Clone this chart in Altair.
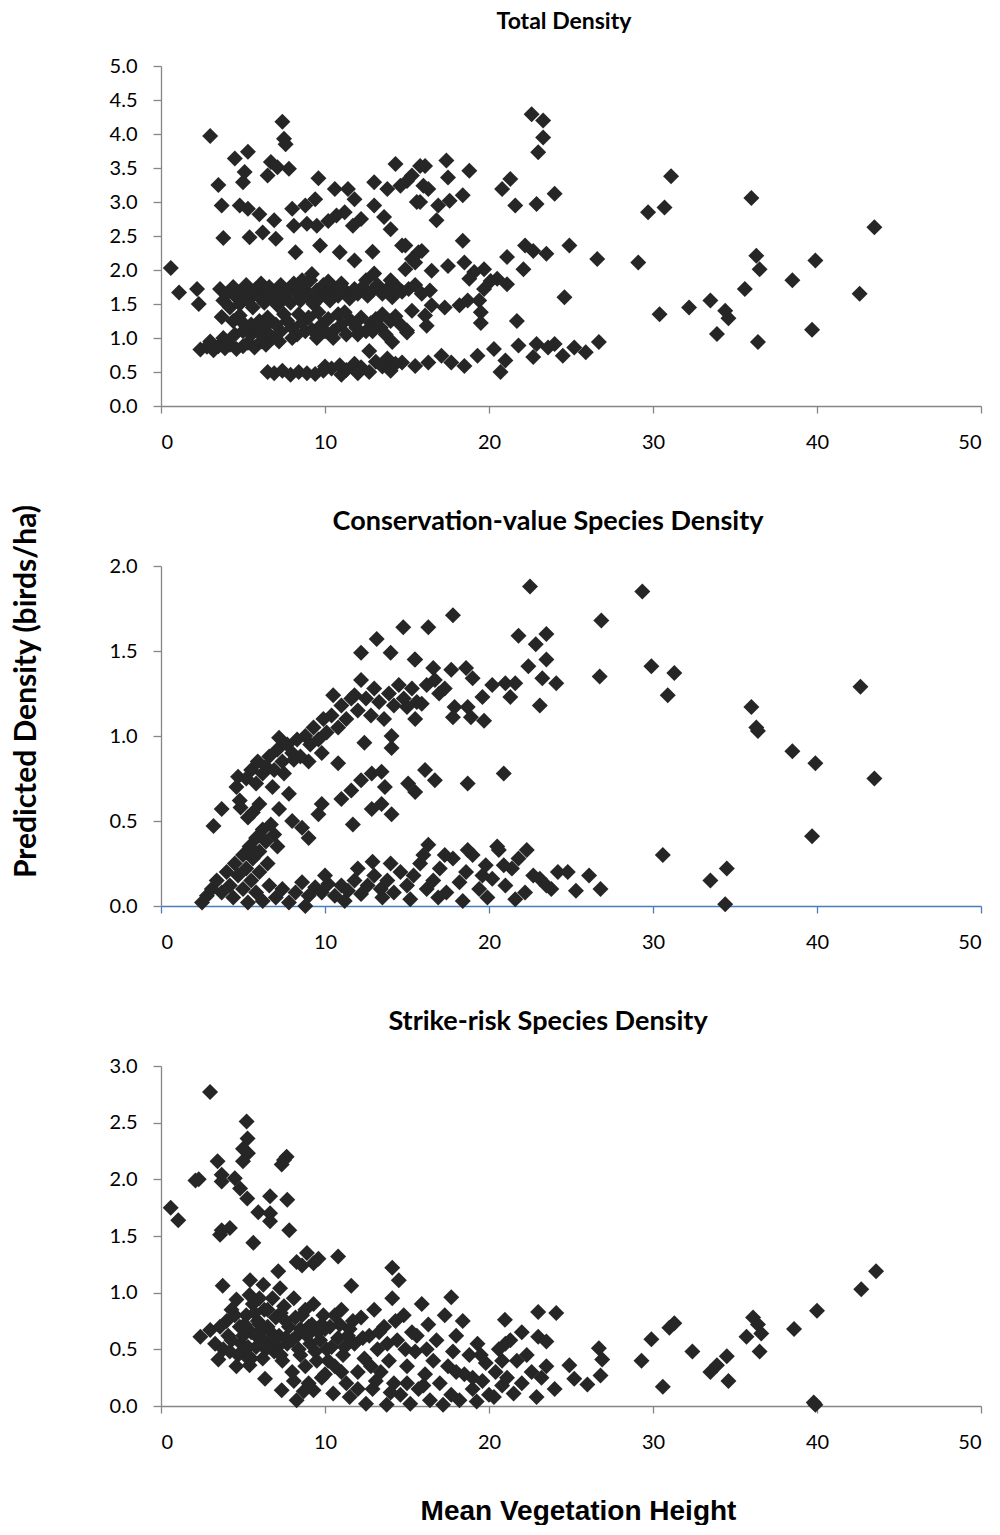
import altair as alt
import pandas as pd

# ---------------- data ----------------
total_pts = [
    (0.6, 2.03), (1.1, 1.67), (2.2, 1.72), (2.3, 1.50),
    (3.0, 3.97), (4.5, 3.64), (5.3, 3.74), (3.5, 3.25), (5.1, 3.44), (5.0, 3.29), (3.7, 2.95), (4.8, 2.95),
    (5.3, 2.90), (3.8, 2.47), (7.4, 4.18), (7.5, 3.93), (7.6, 3.85), (6.7, 3.59), (7.1, 3.51), (7.8, 3.49),
    (6.5, 3.39), (6.0, 2.82), (6.9, 2.73), (5.4, 2.48), (6.2, 2.55), (7.0, 2.46), (8.0, 2.90), (8.8, 2.95),
    (9.4, 3.04), (9.6, 3.35), (8.1, 2.65), (8.9, 2.68), (9.5, 2.65), (10.2, 2.72), (10.7, 2.80), (11.2, 2.85),
    (8.2, 2.26), (9.7, 2.36), (10.6, 3.19), (11.4, 3.19), (11.8, 3.04), (11.7, 2.65), (12.2, 2.75),
    (10.9, 2.26), (11.8, 2.14), (12.9, 2.27), (13.0, 3.29), (13.8, 3.19), (14.3, 3.56), (14.6, 3.24),
    (15.0, 3.31), (15.8, 3.53), (16.0, 3.24), (15.6, 3.00), (13.0, 2.95), (13.6, 2.78), (14.0, 2.60),
    (14.7, 2.36), (15.5, 2.11), (15.7, 2.26), (22.6, 4.29), (23.3, 4.20), (23.3, 3.95), (23.0, 3.73),
    (21.3, 3.34), (20.8, 3.19), (21.6, 2.95), (22.9, 2.97), (24.0, 3.12), (31.1, 3.38), (29.7, 2.85),
    (30.7, 2.92), (17.4, 3.61), (18.8, 3.46), (18.4, 3.10), (17.5, 3.36), (16.1, 3.53), (15.3, 3.39),
    (16.3, 3.19), (15.8, 3.00), (16.9, 2.95), (17.6, 3.02), (16.8, 2.73), (18.4, 2.43),
    (22.2, 2.36), (22.7, 2.28), (23.5, 2.24), (24.9, 2.36), (26.6, 2.16), (29.1, 2.11),
    (14.9, 2.36), (15.9, 2.28), (15.3, 2.16), (14.9, 2.01), (16.5, 1.99), (17.5, 2.06), (18.5, 2.11),
    (19.1, 1.97), (19.7, 2.01), (20.1, 1.84), (21.1, 2.19), (22.1, 2.01), (20.5, 1.87), (21.1, 1.79),
    (19.7, 1.72), (18.8, 1.87), (16.4, 1.70), (24.6, 1.60), (30.4, 1.35), (32.2, 1.45),
    (15.3, 1.40), (16.1, 1.33), (16.5, 1.48), (17.3, 1.45), (18.2, 1.48), (18.7, 1.55), (19.4, 1.55),
    (19.5, 1.38), (19.5, 1.22), (16.2, 1.18), (15.0, 1.11), (21.7, 1.25),
    (14.7, 0.64), (15.5, 0.59), (16.3, 0.64), (17.1, 0.74), (17.7, 0.64), (18.5, 0.59), (19.3, 0.74),
    (20.3, 0.84), (20.7, 0.50), (21.0, 0.67), (21.8, 0.89), (22.7, 0.72), (22.9, 0.91), (23.6, 0.86),
    (24.0, 0.91), (24.5, 0.74), (25.2, 0.86), (25.9, 0.79), (26.7, 0.94),
    (36.0, 3.06), (43.5, 2.63), (36.3, 2.21), (36.5, 2.01), (39.9, 2.14), (38.5, 1.85), (35.6, 1.72),
    (33.5, 1.55), (34.4, 1.40), (34.6, 1.29), (42.6, 1.65), (33.9, 1.06), (36.4, 0.94), (39.7, 1.12),
    # middle band
    (3.6, 1.72), (3.8, 1.55), (4.0, 1.65), (4.2, 1.45), (4.4, 1.75), (4.6, 1.60), (4.8, 1.50), (5.0, 1.70),
    (5.2, 1.78), (5.3, 1.55), (5.5, 1.65), (5.6, 1.45), (5.8, 1.72), (6.0, 1.60), (6.1, 1.80), (6.3, 1.52),
    (6.4, 1.68), (6.6, 1.75), (6.8, 1.58), (7.0, 1.65), (7.1, 1.48), (7.3, 1.78), (7.5, 1.60), (7.7, 1.70),
    (7.9, 1.52), (8.1, 1.80), (8.3, 1.65), (8.5, 1.55), (8.7, 1.72), (8.9, 1.62), (9.1, 1.85), (9.3, 1.50),
    (9.5, 1.70), (9.7, 1.60), (9.9, 1.78), (10.1, 1.65), (10.3, 1.55), (10.5, 1.72), (10.8, 1.62),
    (11.0, 1.80), (11.3, 1.68), (11.5, 1.58), (11.8, 1.72), (12.0, 1.65), (12.3, 1.75), (12.6, 1.62),
    (12.9, 1.70), (13.2, 1.78), (13.5, 1.65), (13.8, 1.72), (14.1, 1.60), (14.4, 1.75), (14.7, 1.68),
    (15.1, 1.72), (15.5, 1.78), (15.9, 1.65), (9.2, 1.94), (10.2, 1.83), (8.6, 1.85), (12.5, 1.85),
    (13.0, 1.95), (14.0, 1.85), (3.7, 1.31), (4.8, 1.33),
    # lower band
    (2.4, 0.83), (2.8, 0.87), (3.2, 0.82), (3.5, 0.88), (3.9, 0.85), (4.2, 0.90), (4.6, 0.84), (5.0, 0.88),
    (5.3, 0.93), (5.7, 0.86), (6.1, 0.95), (6.4, 0.90), (6.8, 1.00), (5.5, 1.05), (5.9, 1.10), (6.3, 1.15),
    (6.6, 1.05), (7.0, 1.20), (7.3, 1.10), (7.7, 1.25), (8.0, 1.15), (8.3, 1.05), (8.6, 1.22), (9.0, 1.30),
    (9.2, 1.12), (9.5, 1.00), (9.8, 1.20), (10.2, 1.28), (10.5, 1.10), (10.8, 1.35), (11.0, 1.20),
    (11.3, 1.05), (11.6, 1.25), (11.9, 1.15), (12.2, 1.30), (12.5, 1.10), (12.8, 1.22), (13.1, 1.28),
    (13.4, 1.15), (13.7, 1.05), (14.0, 1.25), (14.3, 1.32), (15.0, 1.08), (14.1, 0.94), (12.7, 0.81),
    (4.4, 1.25), (5.0, 1.22), (3.0, 0.95), (3.8, 1.00), (4.5, 1.05), (5.0, 1.10), (5.5, 1.20), (6.0, 1.25),
    (6.5, 1.30), (7.5, 1.35), (8.4, 1.35), (9.6, 1.38), (10.0, 1.10), (11.2, 1.38), (12.0, 1.05),
    (12.9, 1.10), (13.5, 1.35), (14.6, 1.20), (7.2, 0.95), (8.0, 1.00), (8.8, 1.10), (10.5, 1.00),
    # bottom band
    (6.5, 0.50), (6.9, 0.48), (7.4, 0.52), (7.9, 0.46), (8.4, 0.50), (8.9, 0.48), (9.4, 0.47), (9.9, 0.52),
    (10.4, 0.55), (10.9, 0.60), (11.3, 0.53), (11.8, 0.62), (12.2, 0.57), (12.7, 0.50), (13.1, 0.65),
    (13.5, 0.58), (14.0, 0.52), (14.3, 0.62), (13.8, 0.70), (12.0, 0.48), (11.0, 0.46), (10.0, 0.58),
]

cons_pts = [
    # upper band
    (3.2, 0.47), (3.7, 0.57), (4.6, 0.70), (4.7, 0.76), (4.8, 0.62), (5.2, 0.75), (5.5, 0.80), (5.8, 0.72),
    (5.9, 0.85), (6.2, 0.78), (6.4, 0.82), (6.6, 0.88), (6.9, 0.80), (7.1, 0.92), (7.2, 0.99), (7.4, 0.85),
    (7.7, 0.95), (8.0, 0.90), (8.3, 0.98), (8.5, 0.88), (8.8, 1.00), (9.1, 0.95), (9.3, 1.05), (9.6, 0.98),
    (9.9, 1.10), (10.1, 1.02), (10.4, 1.12), (10.5, 1.24), (10.8, 1.05), (11.0, 1.18), (11.3, 1.10),
    (11.6, 1.22), (11.8, 1.24), (12.2, 1.33), (12.0, 1.15), (12.5, 1.22), (12.8, 1.12), (13.0, 1.28),
    (13.3, 1.20), (13.6, 1.10), (13.9, 1.25), (14.2, 1.18), (14.5, 1.30), (14.8, 1.22), (15.3, 1.28),
    (15.6, 1.20), (16.2, 1.30), (12.2, 1.49), (13.15, 1.57), (14.0, 1.49), (14.77, 1.64), (15.47, 1.45),
    (16.3, 1.64), (14.06, 1.00), (14.06, 0.93), (6.0, 0.60), (5.6, 0.55), (6.8, 0.70), (7.5, 0.78),
    (8.1, 0.86), (9.0, 0.85), (9.8, 0.90), (10.8, 0.84), (12.4, 0.96),
    (17.8, 1.71), (22.5, 1.88), (21.8, 1.59), (23.5, 1.60), (22.85, 1.54), (15.5, 1.45), (16.6, 1.40),
    (17.7, 1.39), (18.6, 1.40), (19.0, 1.34), (16.7, 1.33), (17.3, 1.28), (17.9, 1.17), (18.7, 1.17),
    (19.6, 1.23), (19.7, 1.09), (18.9, 1.11), (17.8, 1.11), (20.2, 1.30), (21.0, 1.31), (21.6, 1.31),
    (21.3, 1.23), (15.5, 1.10), (15.0, 1.17), (15.9, 1.19), (16.96, 1.25), (22.4, 1.41), (23.5, 1.45),
    (23.25, 1.34), (24.1, 1.31), (23.1, 1.18), (26.85, 1.68), (26.75, 1.35), (29.35, 1.85), (29.9, 1.41),
    (31.3, 1.37), (30.9, 1.24),
    (42.65, 1.29), (36.0, 1.17), (36.4, 1.03), (36.3, 1.05), (38.5, 0.91), (39.9, 0.84), (43.5, 0.75),
    (39.7, 0.41), (34.5, 0.22), (33.5, 0.15), (34.4, 0.01), (30.6, 0.30),
    # middle band
    (7.8, 0.66), (7.2, 0.57), (8.0, 0.50), (8.6, 0.46), (9.0, 0.40), (9.6, 0.54), (9.8, 0.60), (11.7, 0.48),
    (11.0, 0.63), (11.6, 0.68), (12.2, 0.74), (12.85, 0.78), (13.45, 0.79), (13.65, 0.70), (12.85, 0.57),
    (13.45, 0.60), (14.06, 0.54), (15.07, 0.72), (15.5, 0.67), (16.1, 0.80), (16.7, 0.74), (18.7, 0.72),
    (20.9, 0.78), (16.3, 0.36), (4.85, 0.58), (5.3, 0.52),
    # lower diagonal
    (2.5, 0.02), (2.8, 0.06), (3.1, 0.10), (3.4, 0.15), (3.7, 0.08), (4.0, 0.20), (4.2, 0.12), (4.5, 0.25),
    (4.7, 0.18), (5.0, 0.30), (5.2, 0.22), (5.4, 0.35), (5.6, 0.28), (5.8, 0.40), (6.0, 0.32), (6.2, 0.45),
    (6.4, 0.38), (6.7, 0.48), (6.9, 0.42), (7.1, 0.35), (5.0, 0.10), (5.5, 0.15), (6.0, 0.20), (6.5, 0.25),
    (4.4, 0.05),
    # bottom band
    (5.3, 0.02), (5.8, 0.08), (6.2, 0.03), (6.6, 0.12), (7.0, 0.05), (7.4, 0.10), (7.8, 0.02), (8.2, 0.08),
    (8.6, 0.14), (9.0, 0.06), (9.4, 0.11), (9.8, 0.08), (10.2, 0.13), (10.6, 0.06), (11.0, 0.12),
    (11.4, 0.09), (11.8, 0.15), (12.2, 0.07), (12.6, 0.12), (13.0, 0.18), (13.4, 0.10), (13.8, 0.15),
    (14.2, 0.08), (14.6, 0.20), (15.0, 0.12), (15.4, 0.18), (15.8, 0.25), (16.2, 0.10), (16.6, 0.15),
    (17.0, 0.22), (17.4, 0.08), (17.8, 0.28), (18.2, 0.14), (18.6, 0.20), (19.0, 0.30), (19.4, 0.10),
    (19.8, 0.24), (20.2, 0.16), (20.6, 0.33), (21.0, 0.12), (21.4, 0.22), (21.8, 0.28), (22.2, 0.08),
    (22.3, 0.33), (22.7, 0.18), (23.1, 0.16), (23.5, 0.12), (23.8, 0.10), (24.2, 0.20), (24.8, 0.20),
    (25.3, 0.09), (26.1, 0.18), (26.8, 0.10), (20.5, 0.35), (18.7, 0.33), (16.0, 0.30), (14.0, 0.25),
    (12.0, 0.22), (11.2, 0.03), (8.8, 0.00), (10.0, 0.18), (13.5, 0.05), (15.2, 0.04), (16.9, 0.05),
    (18.4, 0.03), (19.9, 0.05), (21.6, 0.04), (12.9, 0.26), (17.3, 0.30), (19.6, 0.18), (20.9, 0.24),
]

strike_pts = [
    (2.99, 2.77), (0.59, 1.75), (1.05, 1.64), (2.1, 1.99), (2.3, 2.00), (3.45, 2.16), (3.7, 2.04),
    (3.7, 1.98), (4.5, 2.01), (4.82, 1.92), (5.26, 1.83), (5.22, 2.51), (5.28, 2.36), (5.0, 2.27),
    (5.3, 2.23), (5.0, 2.16), (7.66, 2.20), (7.36, 2.13), (7.5, 2.17), (6.65, 1.85), (7.7, 1.82),
    (5.93, 1.71), (6.65, 1.70), (6.65, 1.63), (3.7, 1.55), (4.2, 1.57), (3.6, 1.51), (7.82, 1.55),
    (5.63, 1.44), (10.8, 1.32), (8.27, 1.27), (8.9, 1.35), (9.6, 1.30), (9.3, 1.26), (8.6, 1.24),
    (14.1, 1.22), (14.5, 1.11), (3.76, 1.06), (5.43, 1.11), (6.24, 1.07), (7.15, 1.19), (7.26, 1.04),
    (11.6, 1.06), (17.7, 0.96), (20.97, 0.76), (23.0, 0.83), (24.1, 0.82), (23.0, 0.61), (23.5, 0.57),
    (26.7, 0.51), (26.9, 0.41), (26.8, 0.27), (24.9, 0.36), (25.2, 0.24), (26.0, 0.19), (29.3, 0.40),
    (29.9, 0.59), (31.0, 0.69), (31.3, 0.73), (32.4, 0.48), (30.6, 0.17), (43.6, 1.19), (42.7, 1.03),
    (40.0, 0.84), (38.6, 0.68), (36.1, 0.78), (36.4, 0.72), (36.6, 0.64), (35.7, 0.61), (36.5, 0.48),
    (34.5, 0.44), (33.9, 0.36), (33.5, 0.30), (34.6, 0.22), (39.8, 0.03), (39.9, 0.01),
    # dense cluster
    (2.4, 0.61), (3.0, 0.67), (3.5, 0.41), (3.3, 0.55), (3.8, 0.50), (4.0, 0.75), (4.1, 0.62), (4.3, 0.85),
    (4.6, 0.94), (4.6, 0.35), (4.8, 0.70), (4.9, 0.55), (5.1, 0.45), (5.2, 0.80), (5.4, 0.36), (5.5, 0.65),
    (5.6, 0.90), (5.8, 0.52), (5.9, 0.75), (6.1, 0.60), (6.2, 0.42), (6.3, 0.85), (6.34, 0.24), (6.5, 0.70),
    (6.6, 0.55), (6.8, 0.95), (6.9, 0.48), (7.0, 0.78), (7.2, 0.62), (7.36, 0.14), (7.4, 0.40), (7.5, 0.88),
    (7.7, 0.55), (7.8, 0.70), (8.0, 0.30), (8.1, 0.95), (8.27, 0.05), (8.3, 0.62), (8.5, 0.45), (8.6, 0.80),
    (8.7, 0.13), (8.8, 0.35), (9.0, 0.70), (9.1, 0.55), (9.3, 0.14), (9.3, 0.90), (9.5, 0.40), (9.6, 0.65),
    (9.8, 0.25), (9.9, 0.80), (10.1, 0.50), (10.3, 0.70), (10.5, 0.11), (10.6, 0.35), (10.8, 0.60),
    (11.0, 0.85), (11.1, 0.45), (11.3, 0.20), (11.5, 0.08), (11.5, 0.68), (11.8, 0.55), (12.0, 0.30),
    (12.2, 0.78), (12.4, 0.42), (12.5, 0.02), (12.7, 0.62), (12.9, 0.15), (13.0, 0.85), (13.2, 0.50),
    (13.4, 0.30), (13.6, 0.70), (13.76, 0.01), (13.9, 0.40), (14.1, 0.95), (14.2, 0.20), (14.4, 0.58),
    (14.6, 0.10), (14.8, 0.80), (15.0, 0.35), (15.2, 0.02), (15.3, 0.65), (15.5, 0.48), (15.7, 0.15),
    (15.9, 0.90), (16.1, 0.28), (16.4, 0.05), (16.3, 0.72), (16.6, 0.40), (16.8, 0.58), (17.0, 0.20),
    (17.2, 0.01), (17.3, 0.80), (17.5, 0.35), (17.7, 0.10), (18.0, 0.62), (18.2, 0.05), (18.4, 0.75),
    (18.5, 0.28), (18.8, 0.45), (19.0, 0.15), (19.25, 0.04), (19.3, 0.55), (19.6, 0.22), (19.8, 0.38),
    (20.0, 0.10), (20.3, 0.08), (20.4, 0.30), (20.6, 0.50), (20.8, 0.18), (21.1, 0.25), (21.3, 0.58),
    (21.5, 0.11), (21.7, 0.40), (22.0, 0.20), (22.3, 0.45), (22.6, 0.30), (22.9, 0.08), (23.2, 0.25),
    (23.5, 0.35), (24.0, 0.15), (22.0, 0.65), (21.0, 0.55),
    (3.6, 0.70), (4.2, 0.48), (4.5, 0.80), (5.0, 0.62), (5.3, 0.52), (5.7, 0.82), (6.0, 0.72), (6.4, 0.50),
    (6.7, 0.65), (7.1, 0.52), (7.6, 0.60), (8.2, 0.78), (8.4, 0.50), (8.9, 0.62), (9.2, 0.72), (9.7, 0.58),
    (10.0, 0.68), (10.4, 0.52), (10.9, 0.72), (11.4, 0.62), (7.3, 0.82), (6.0, 0.95), (5.4, 0.98),
    (4.3, 0.58), (4.7, 0.45), (5.1, 0.72), (5.5, 0.42), (5.8, 0.62), (6.2, 0.68), (6.5, 0.85), (6.9, 0.60),
    (7.3, 0.45), (7.6, 0.75), (8.0, 0.58), (8.5, 0.68), (8.8, 0.85), (9.4, 0.48), (9.8, 0.72), (10.2, 0.40),
    (10.6, 0.80), (11.2, 0.52), (11.7, 0.75), (12.3, 0.60), (12.8, 0.35), (13.3, 0.65), (13.8, 0.55),
    (14.3, 0.75), (14.9, 0.50), (15.6, 0.62), (16.2, 0.50), (17.8, 0.48), (19.5, 0.45), (20.8, 0.40),
    (8.1, 0.22), (9.0, 0.20), (10.0, 0.28), (11.0, 0.30), (12.0, 0.15), (13.1, 0.22), (14.0, 0.12),
    (15.0, 0.20), (16.0, 0.18), (18.0, 0.30), (19.0, 0.25),
]

x_ticks = [0, 10, 20, 30, 40, 50]
total_ticks = [0.0, 0.5, 1.0, 1.5, 2.0, 2.5, 3.0, 3.5, 4.0, 4.5, 5.0]
cons_ticks = [0.0, 0.5, 1.0, 1.5, 2.0]
strike_ticks = [0.0, 0.5, 1.0, 1.5, 2.0, 2.5, 3.0]

panel_titles = ["Total Density", "Conservation-value Species Density", "Strike-risk Species Density"]
x_title = "Mean Vegetation Height"
y_title = "Predicted Density (birds/ha)"

GREY = "#868686"
BLUE = "#4A7EBB"
FONT = "Lato"


def panel(pts, title, tsize, toffset, dx, ydom, yticks, xcolor, ytitle, xtitle):
    df = pd.DataFrame(pts, columns=["h", "d"])
    xaxis_kw = dict(values=x_ticks, format="d", domainColor=xcolor, tickColor=xcolor,
                    grid=False, labelPadding=19, tickSize=7, labelFontSize=20,
                    labelFont=FONT, labelColor="#000000", domainWidth=1.3, tickWidth=1.3)
    if xtitle:
        xaxis_kw.update(title=xtitle, titleFont="Liberation Sans", titleFontSize=28,
                        titleFontWeight="bold", titleColor="#000000", titlePadding=45,
                        titleX=417)
    else:
        xaxis_kw.update(title="")
    yaxis_kw = dict(values=yticks, format=".1f", domainColor=GREY, tickColor=GREY, grid=False,
                    labelPadding=16, tickSize=8, labelFontSize=20, labelFont=FONT,
                    labelColor="#000000", domainWidth=1.3, tickWidth=1.3)
    if ytitle:
        # the shared y title hangs from the first panel and sits beside the middle one
        yaxis_kw.update(title=ytitle, titleFont=FONT, titleFontSize=30, titleFontWeight="bold",
                        titleColor="#000000", titlePadding=68, titleY=625)
    else:
        yaxis_kw.update(title="")
    return (
        alt.Chart(df, title=alt.TitleParams(title, font=FONT, fontSize=tsize, fontWeight="bold",
                                            color="#000000", anchor="middle", frame="group",
                                            offset=toffset, dx=dx))
        .mark_point(shape="diamond", filled=True, size=256, color="#262626", opacity=1)
        .encode(
            x=alt.X("h:Q", scale=alt.Scale(domain=[0, 50], nice=False), axis=alt.Axis(**xaxis_kw)),
            y=alt.Y("d:Q", scale=alt.Scale(domain=ydom, nice=False), axis=alt.Axis(**yaxis_kw)),
        )
        .properties(width=820, height=340)
    )


p1 = panel(total_pts, panel_titles[0], 23, 22, -7, [0, 5], total_ticks, GREY, y_title, None)
p2 = panel(cons_pts, panel_titles[1], 27, 20, -23, [0, 2], cons_ticks, BLUE, None, None)
p3 = panel(strike_pts, panel_titles[2], 27, 20, -23, [0, 3], strike_ticks, GREY, None, x_title)

chart = (
    alt.vconcat(p1, p2, p3, spacing=160, bounds="flush")
    .properties(background="white", padding={"left": 11, "top": 11, "right": 5, "bottom": 0})
    .configure_view(stroke=None)
)

chart.save("out.html", embed_options={"renderer": "svg", "actions": False})
